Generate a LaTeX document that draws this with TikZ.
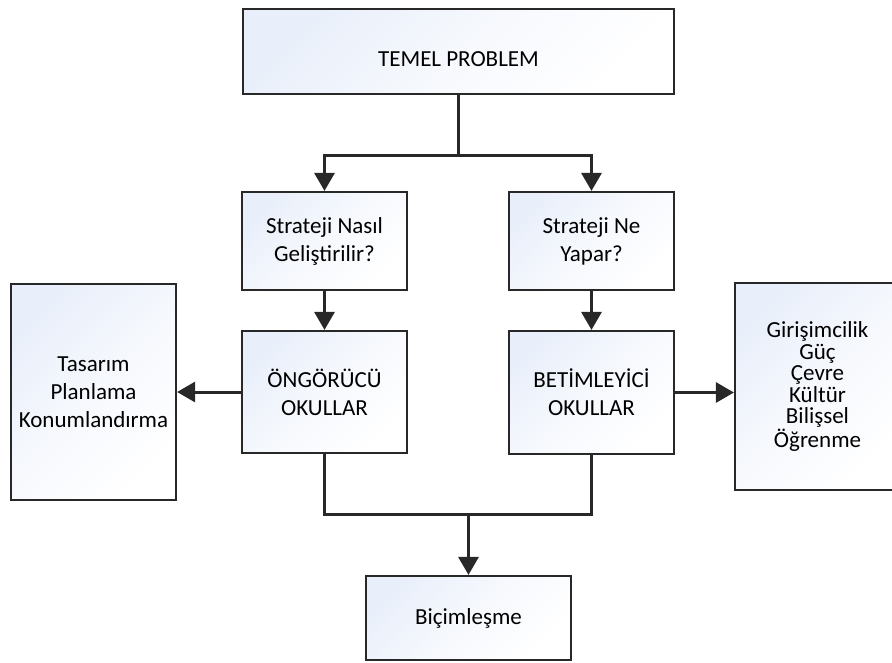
\documentclass[tikz,border=0pt]{standalone}
\usepackage{fontspec}
\setmainfont{Carlito}
\usetikzlibrary{arrows.meta}
\definecolor{boxblue}{RGB}{233,239,250}
\definecolor{ink}{RGB}{40,40,40}
\begin{document}
\begin{tikzpicture}[x=1pt,y=-1pt,
  box/.style={draw=ink, line width=2.2pt, shading=axis, top color=boxblue,
    bottom color=white, middle color=boxblue!40!white, shading angle=45,
    align=center, inner sep=0pt, font=\fontsize{23}{28}\selectfont},
  link/.style={draw=ink, line width=3pt},
  arr/.style={link, -{Triangle[width=20pt,length=18pt]}}]
\useasboundingbox (0,0) rectangle (892,662);
\clip (0,0) rectangle (892,662);
\fill[white] (0,0) rectangle (892,662);

% boxes
\node[box, minimum width=431pt, minimum height=85pt,
  label={[font=\fontsize{23}{28}\selectfont, yshift=-8pt]center:TEMEL PROBLEM}]
  (top) at (458.5,51.5) {};
\node[box, minimum width=165pt, minimum height=98pt] (howq) at (324.5,241)
  {Strateji Nasıl\\Geliştirilir?};
\node[box, minimum width=165pt, minimum height=98pt] (whatq) at (591.5,241)
  {Strateji Ne\\Yapar?};
\node[box, minimum width=165pt, minimum height=122pt] (presc) at (324.5,392)
  {ÖNGÖRÜCÜ\\OKULLAR};
\node[box, minimum width=165pt, minimum height=123pt] (descr) at (591.5,392.5)
  {BETİMLEYİCİ\\OKULLAR};
\node[box, minimum width=165pt, minimum height=216pt] (pschools) at (93.5,392)
  {Tasarım\\Planlama\\Konumlandırma};
\node[box, minimum width=165pt, minimum height=207pt,
  font=\fontsize{23}{21.5}\selectfont] (dschools) at (817.5,386.5)
  {Girişimcilik\\Güç\\Çevre\\Kültür\\Bilişsel\\Öğrenme};
\node[box, minimum width=205pt, minimum height=84pt] (config) at (468.5,618)
  {Biçimleşme};

% connectors
\coordinate (split) at (458.5,155);
\draw[link] (top.south) -- (split);
\draw[arr] (split) -| (howq.north);
\draw[arr] (split) -| (whatq.north);
\draw[arr] (howq.south) -- (presc.north);
\draw[arr] (whatq.south) -- (descr.north);
\draw[arr] (presc.west) -- (presc.west -| pschools.east);
\draw[arr] (descr.east) -- (descr.east -| dschools.west);
\coordinate (merge) at (468.5,514);
\draw[link] (presc.south) |- (merge);
\draw[link] (descr.south) |- (merge);
\draw[arr] (merge) -- (config.north);
\end{tikzpicture}
\end{document}
